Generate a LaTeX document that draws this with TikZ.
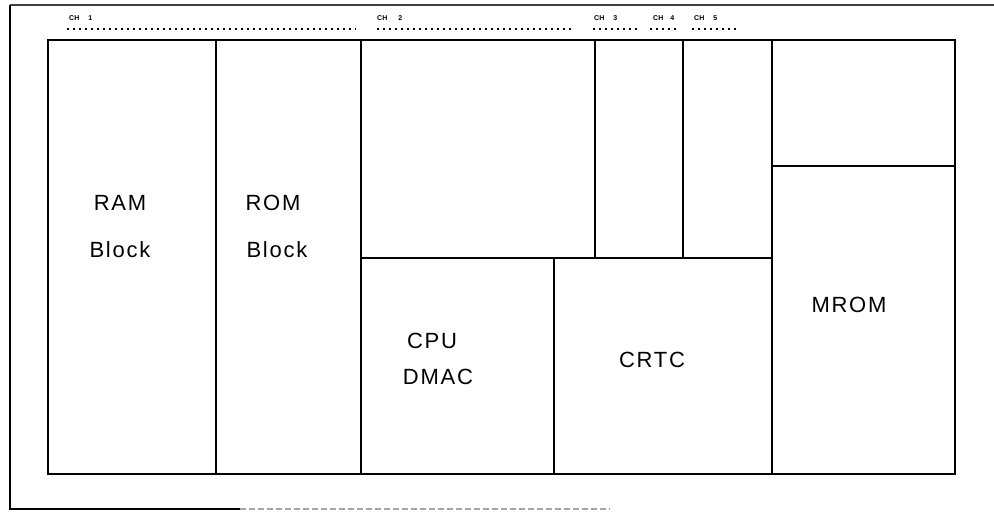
\documentclass[tikz,border=0pt]{standalone}
\usepackage{fontspec}
\setmainfont{Liberation Sans}[LetterSpace=8]
\newfontfamily\smallfont{Liberation Sans}
\begin{document}
\begin{tikzpicture}[x=1pt,y=-1pt,
  blk/.style={draw=black,line width=1.3pt},
  lbl/.style={font=\fontsize{22}{22}\selectfont,inner sep=0pt,anchor=center},
  chl/.style={font=\smallfont\bfseries\fontsize{7}{7}\selectfont,inner sep=0pt,anchor=west},
  dots/.style={line width=1.8pt,dash pattern=on 1.8pt off 4.2pt},
  frame/.style={line width=1.2pt}]
\useasboundingbox (0,0) rectangle (994,529);
% outer frame
\coordinate (fTL) at (10,5);
\coordinate (fTR) at (994,5);
\coordinate (fBL) at (10,509);
\coordinate (fBM) at (240,509);
\coordinate (fBR) at (610,509);
\draw[frame,black!75] (fTR) -- (fTL);
\draw[frame] (fTL) -- (fBL) -- (fBM);
\draw[frame,black!35,dash pattern=on 6pt off 3pt] (fBM) -- (fBR);
% main blocks
\draw[blk] (48,40) rectangle (216,474);
\draw[blk] (216,40) rectangle (361,474);
\draw[blk] (361,40) rectangle (595,258);
\draw[blk] (595,40) rectangle (683,258);
\draw[blk] (683,40) rectangle (772,258);
\draw[blk] (361,258) rectangle (554,474);
\draw[blk] (554,258) rectangle (772,474);
\draw[blk] (772,40) rectangle (955,166);
\draw[blk] (772,166) rectangle (955,474);
% labels
\node[lbl] (ram) at (120,203) {RAM};
\node[lbl] (ramb) at (120,250) {Block};
\node[lbl] (rom) at (273,203) {ROM};
\node[lbl] (romb) at (277,250) {Block};
\node[lbl] (cpu) at (432,341) {CPU};
\node[lbl] (dmac) at (438,377) {DMAC};
\node[lbl] (crtc) at (652,360) {CRTC};
\node[lbl] (mrom) at (849,305) {MROM};
% channel labels
\node[chl] (ch1) at (69,18) {CH\hspace{9pt}1};
\node[chl] (ch2) at (377,18) {CH\hspace{11pt}2};
\node[chl] (ch3) at (594,18) {CH\hspace{9pt}3};
\node[chl] (ch4) at (653,18) {CH\hspace{7pt}4};
\node[chl] (ch5) at (694,18) {CH\hspace{9pt}5};
\coordinate (d1a) at (67,29); \coordinate (d1b) at (356,29);
\coordinate (d2a) at (377,29); \coordinate (d2b) at (573,29);
\coordinate (d3a) at (593,29); \coordinate (d3b) at (639,29);
\coordinate (d4a) at (650,29); \coordinate (d4b) at (679,29);
\coordinate (d5a) at (692,29); \coordinate (d5b) at (739,29);
\draw[dots] (d1a) -- (d1b);
\draw[dots] (d2a) -- (d2b);
\draw[dots] (d3a) -- (d3b);
\draw[dots] (d4a) -- (d4b);
\draw[dots] (d5a) -- (d5b);
\end{tikzpicture}
\end{document}
